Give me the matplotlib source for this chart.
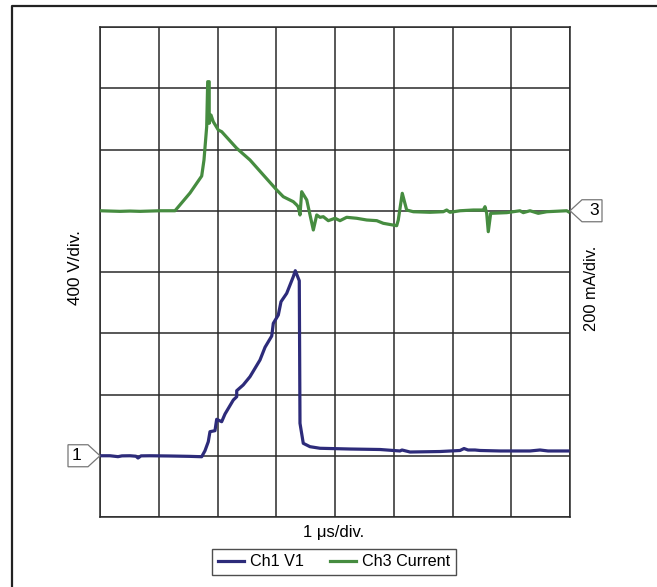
import matplotlib
matplotlib.use("Agg")
import matplotlib.pyplot as plt
from matplotlib.patches import Polygon
from matplotlib.lines import Line2D

plt.rcParams['font.family'] = ['Liberation Sans Narrow', 'Liberation Sans', 'DejaVu Sans']

# Time axis in microseconds (1 us / div), amplitudes in screen divisions
ch1_t = [0, 0.170, 0.306, 0.374, 0.511, 0.613, 0.647, 0.698, 0.851, 1.191, 1.532, 1.731,
         1.787, 1.843, 1.872, 1.957, 1.986, 2.071, 2.128, 2.269, 2.327, 2.327, 2.437,
         2.553, 2.723, 2.809, 2.923, 2.950, 3.035, 3.081, 3.178, 3.290, 3.324, 3.392,
         3.404, 3.460, 3.574, 3.745, 4.255, 4.766, 5.106, 5.140, 5.277, 5.787, 6.128,
         6.196, 6.264, 6.383, 6.468, 6.809, 7.319, 7.489, 7.626, 7.966]
ch1_v = [1.000, 1.000, 0.985, 0.998, 1.000, 0.992, 0.963, 0.998, 1.000, 0.996, 0.990, 0.984,
         1.082, 1.229, 1.393, 1.409, 1.595, 1.556, 1.682, 1.910, 1.964, 2.062, 2.155,
         2.291, 2.563, 2.771, 2.955, 3.162, 3.298, 3.515, 3.652, 3.923, 4.021, 3.858,
         1.530, 1.203, 1.148, 1.122, 1.110, 1.102, 1.078, 1.094, 1.061, 1.069, 1.086,
         1.118, 1.094, 1.094, 1.086, 1.078, 1.078, 1.094, 1.078, 1.078]

ch3_t = [0, 0.170, 0.340, 0.511, 0.681, 0.851, 1.021, 1.277, 1.532, 1.731, 1.770, 1.816,
         1.833, 1.859, 1.859, 1.889, 1.928, 2.014, 2.071, 2.327, 2.553, 2.780, 3.008,
         3.120, 3.290, 3.349, 3.375, 3.404, 3.433, 3.519, 3.631, 3.689, 3.745, 3.801,
         3.886, 4.000, 4.085, 4.199, 4.370, 4.540, 4.711, 4.822, 5.050, 5.077, 5.145,
         5.220, 5.334, 5.617, 5.843, 5.901, 5.957, 6.128, 6.354, 6.524, 6.553, 6.582,
         6.609, 6.650, 6.923, 7.149, 7.205, 7.319, 7.460, 7.604, 7.944, 7.972]
ch3_i = [5.000, 4.995, 4.990, 4.995, 4.990, 4.995, 5.000, 5.000, 5.290, 5.567, 5.829, 6.372,
         7.107, 7.107, 6.428, 6.563, 6.454, 6.318, 6.291, 6.020, 5.829, 5.584, 5.339,
         5.229, 5.148, 5.094, 5.061, 4.931, 5.311, 5.176, 4.686, 4.931, 4.893, 4.903,
         4.838, 4.877, 4.838, 4.893, 4.877, 4.849, 4.838, 4.795, 4.756, 4.849, 5.285,
         5.012, 4.984, 4.975, 4.984, 5.012, 4.975, 5.000, 5.012, 5.012, 5.066, 4.958,
         4.658, 4.958, 4.969, 5.000, 4.969, 5.000, 4.958, 4.984, 5.000, 4.984]

series_names = ["Ch1 V1", "Ch3 Current"]
x_label = "1 \u03bcs/div."
y_left_label = "400 V/div."
y_right_label = "200 mA/div."
ch1_marker, ch3_marker = "1", "3"
ch1_level, ch3_level = 1.0, 5.0

W, H = 657, 587
fig = plt.figure(figsize=(W / 100, H / 100), dpi=100)
ax = fig.add_axes([100 / W, (H - 517) / H, 470 / W, 490 / H])
ax.set_xlim(0, 8)
ax.set_ylim(0, 8)
ax.set_xticks(range(9))
ax.set_yticks(range(9))
ax.tick_params(length=0, labelbottom=False, labelleft=False)
ax.grid(True, color='#2a2a2a', linewidth=1.1)
for s in ax.spines.values():
    s.set_color('#2a2a2a')
    s.set_linewidth(1.1)

blue = '#2d2b7a'
green = '#468c40'
l1, = ax.plot(ch1_t, ch1_v, color=blue, linewidth=2.3, solid_joinstyle='round', zorder=3)
l3, = ax.plot(ch3_t, ch3_i, color=green, linewidth=2.3, solid_joinstyle='round', zorder=3)

# channel markers
dx_tip = 12 / 58.75
dx_box = 32 / 58.75
hh = 11 / 61.25
p1 = Polygon([(0, ch1_level), (-dx_tip, ch1_level + hh), (-dx_box, ch1_level + hh),
              (-dx_box, ch1_level - hh), (-dx_tip, ch1_level - hh)], closed=True,
             facecolor='white', edgecolor='#777777', linewidth=0.9, clip_on=False, zorder=4)
ax.add_patch(p1)
ax.text(-(dx_box + dx_tip) / 2 - 0.03, ch1_level, ch1_marker, ha='center', va='center',
        fontsize=12.5, clip_on=False, zorder=6)
p3 = Polygon([(8, ch3_level), (8 + dx_tip, ch3_level + hh), (8 + dx_box, ch3_level + hh),
              (8 + dx_box, ch3_level - hh), (8 + dx_tip, ch3_level - hh)], closed=True,
             facecolor='white', edgecolor='#777777', linewidth=0.9, clip_on=False, zorder=4)
ax.add_patch(p3)
ax.text(8 + (dx_box + dx_tip) / 2 + 0.03, ch3_level, ch3_marker, ha='center', va='center',
        fontsize=12.5, clip_on=False, zorder=6)

# labels
fig.text(75 / W, 1 - 268 / H, y_left_label, rotation=90, ha='center', va='center', fontsize=12.3)
fig.text(592 / W, 1 - 288 / H, y_right_label, rotation=90, ha='center', va='center', fontsize=11.8)
fig.text(334 / W, 1 - 533 / H, x_label, ha='center', va='center', fontsize=12)

leg = fig.legend([l1, l3], series_names, loc='center', bbox_to_anchor=(334 / W, 1 - 562 / H),
                 ncol=2, frameon=True, fancybox=False, fontsize=11.6, handlelength=1.6,
                 handletextpad=0.4, columnspacing=1.6, borderpad=0.35, borderaxespad=0)
leg.get_frame().set_edgecolor('#222222')
leg.get_frame().set_linewidth(1.0)

# outer frame (left and top edges)
fig.add_artist(Line2D([12 / W, 12 / W, 1.0], [0.0, 1 - 6 / H, 1 - 6 / H],
                      transform=fig.transFigure, color='#222222', linewidth=1.6))

fig.savefig('out.png', dpi=100)
